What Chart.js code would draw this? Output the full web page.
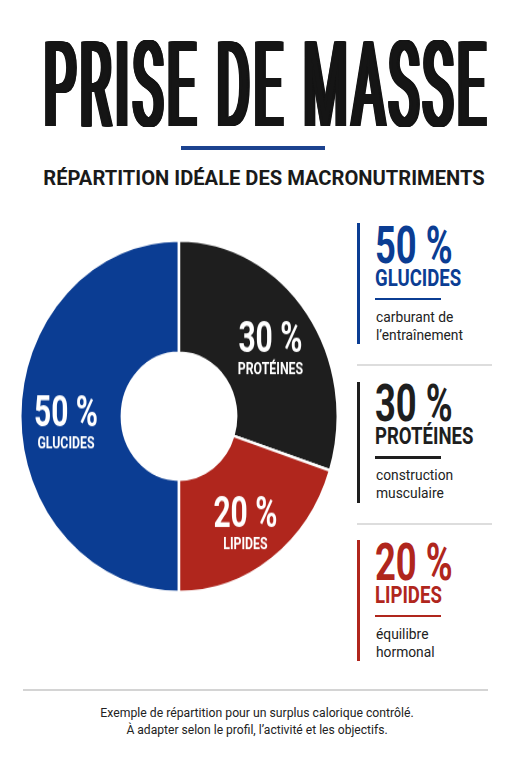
<!DOCTYPE html>
<html lang="fr">
<head>
<meta charset="utf-8">
<title>Prise de masse</title>
<script src="https://cdn.jsdelivr.net/npm/chart.js@4.4.1/dist/chart.umd.min.js"></script>
<style>
html,body{margin:0;padding:0;background:#fff;}
body{width:511px;height:768px;position:relative;overflow:hidden;font-family:Roboto,"Noto Sans",sans-serif;}
.t{position:absolute;white-space:nowrap;line-height:1;}
.r{position:absolute;}
#wrap{position:absolute;left:19px;top:239px;width:320px;height:320px;transform:scaleY(1.1076);transform-origin:0 0;}
</style>
</head>
<body>
<div id="wrap"><canvas id="macroChart" width="320" height="320"></canvas></div>
<script>
// données
const categories = ['GLUCIDES', 'PROTÉINES', 'LIPIDES'];
const values = [50, 30, 20];
const descriptions = [
  ['carburant de', 'l’entraînement'],
  ['construction', 'musculaire'],
  ['équilibre', 'hormonal']
];
const colors = ['#0b3d93', '#1e1e1e', '#b0261d'];
const title = 'PRISE DE MASSE';
const subtitle = 'RÉPARTITION IDÉALE DES MACRONUTRIMENTS';
const notes = [
  'Exemple de répartition pour un surplus calorique contrôlé.',
  'À adapter selon le profil, l’activité et les objectifs.'
];

function pct(v){ return v + '\u00a0%'; }

// texte positionné sur sa ligne de base, condensé horizontalement
function txt(s, o){
  const d = document.createElement('div');
  d.className = 't';
  d.textContent = s;
  d.style.fontSize = o.size + 'px';
  d.style.fontWeight = o.weight || 400;
  d.style.color = o.color || '#1a1a1a';
  d.style.top = (o.base - 0.842 * o.size) + 'px';
  if (o.spacing) d.style.letterSpacing = o.spacing + 'px';
  if (o.thick){
    // épaissit seulement les fûts verticaux
    const sh = [];
    for (let i = -o.thick; i <= o.thick; i++) if (i) sh.push(i + 'px 0 0 ' + (o.color || '#1a1a1a'));
    d.style.textShadow = sh.join(',');
  }
  document.body.appendChild(d);
  let k = o.k || 1;
  if (o.w) k = o.w / d.offsetWidth;
  if (o.center !== undefined){
    d.style.left = o.center + 'px';
    d.style.transformOrigin = '50% 0';
    d.style.transform = 'translateX(-50%) scaleX(' + k + ')';
  } else {
    d.style.left = o.x + 'px';
    d.style.transformOrigin = '0 0';
    d.style.transform = 'scaleX(' + k + ')';
  }
  return d;
}

function rect(x, y, w, h, c){
  const d = document.createElement('div');
  d.className = 'r';
  d.style.cssText += 'left:' + x + 'px;top:' + y + 'px;width:' + w + 'px;height:' + h + 'px;background:' + c;
  document.body.appendChild(d);
}

// en-tête
txt(title, {size:118, weight:400, thick:7, spacing:10, color:'#151515', base:126, center:267, w:446});
rect(181, 146, 144, 4, '#1c428f');
txt(subtitle, {size:19.7, weight:700, color:'#1a1a1a', base:186, center:263.5, w:441});

// panneau de droite
categories.forEach(function(cat, i){
  const top = 223 + i * 158.5;
  const c = colors[i];
  rect(357, top, 3, 121, c);
  txt(pct(values[i]), {size:52.7, weight:700, color:c, base:top + 40, x:375, k:0.69});
  txt(cat, {size:23.5, weight:700, color:c, base:top + 63.5, x:375, k:0.79});
  rect(375, top + 74.5, 66, 2.5, c);
  descriptions[i].forEach(function(line, j){
    txt(line, {size:15, color:'#222', base:top + 99.5 + j * 18, x:376, k:0.92});
  });
  if (i < categories.length - 1) rect(357, top + 141, 135, 2, '#dddddd');
});

// pied de page
rect(23, 689, 465, 2, '#d4d4d4');
txt(notes[0], {size:13.4, color:'#222', base:717, center:256.5, w:313});
txt(notes[1], {size:13.4, color:'#222', base:734, center:256.5, w:261});

// étiquettes dans les parts
function drawCond(ctx, s, x, y, font, k){
  ctx.save();
  ctx.translate(x, y);
  ctx.scale(k, 1);
  ctx.font = font;
  ctx.fillStyle = '#fff';
  ctx.textAlign = 'center';
  ctx.textBaseline = 'alphabetic';
  ctx.fillText(s, 0, 0);
  ctx.restore();
}

const sliceLabels = {
  id: 'sliceLabels',
  afterDatasetsDraw(chart){
    const ctx = chart.ctx;
    chart.getDatasetMeta(0).data.forEach(function(arc, i){
      const p = arc.getProps(['x','y','startAngle','endAngle','innerRadius','outerRadius']);
      const a = (p.startAngle + p.endAngle) / 2;
      const r = p.innerRadius + (p.outerRadius - p.innerRadius) * 0.55;
      const cx = p.x + Math.cos(a) * r;
      const cy = p.y + Math.sin(a) * r + 5;
      drawCond(ctx, pct(values[i]), cx, cy + 3.5, 'bold 39px Roboto', 0.77);
      drawCond(ctx, categories[i], cx, cy + 23.5, 'bold 14px Roboto', 0.88);
    });
  }
};

const ctx = document.getElementById('macroChart');

let chart = new Chart(ctx, {
  type: 'doughnut',
  data: {
    labels: categories,
    datasets: [{
      data: values,
      backgroundColor: colors,
      borderColor: '#ffffff',
      borderWidth: 2.5,
      hoverOffset: 0
    }]
  },
  options: {
    responsive: false,
    animation: false,
    rotation: 180,
    cutout: '36%',
    layout: { padding: 0 },
    plugins: {
      legend: { display: false },
      tooltip: { enabled: false }
    }
  },
  plugins: [sliceLabels]
});
</script>
</body>
</html>
